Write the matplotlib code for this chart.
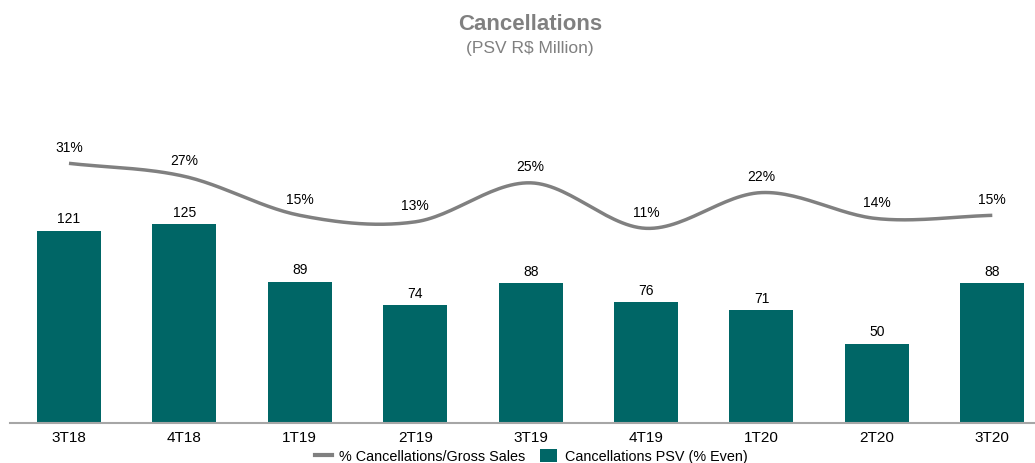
import matplotlib.pyplot as plt
import numpy as np
from matplotlib.lines import Line2D
from matplotlib.patches import Patch

plt.rcParams['font.family'] = ['Liberation Sans', 'DejaVu Sans']

quarters = ['3T18', '4T18', '1T19', '2T19', '3T19', '4T19', '1T20', '2T20', '3T20']
psv = [121, 125, 89, 74, 88, 76, 71, 50, 88]
pct = [31, 27, 15, 13, 25, 11, 22, 14, 15]

bar_color = '#006666'
line_color = '#808080'


def smooth(x, y, n=30):
    # catmull-rom style smoothing, like the office "smoothed line"
    x = np.asarray(x, float)
    y = np.asarray(y, float)
    px = np.concatenate([[2 * x[0] - x[1]], x, [2 * x[-1] - x[-2]]])
    py = np.concatenate([[2 * y[0] - y[1]], y, [2 * y[-1] - y[-2]]])
    xs, ys = [], []
    t = np.linspace(0, 1, n)
    for i in range(1, len(px) - 2):
        for arr, out in ((px, xs), (py, ys)):
            p0, p1, p2, p3 = arr[i - 1], arr[i], arr[i + 1], arr[i + 2]
            seg = 0.5 * ((2 * p1) + (-p0 + p2) * t +
                         (2 * p0 - 5 * p1 + 4 * p2 - p3) * t ** 2 +
                         (-p0 + 3 * p1 - 3 * p2 + p3) * t ** 3)
            out.extend(seg)
    return np.array(xs), np.array(ys)


fig = plt.figure(figsize=(10.35, 4.64), dpi=100)
W, H = 1035, 464
ax = fig.add_axes([10 / W, (H - 424) / H, (1035 - 10) / W, (424 - 100) / H])
x = np.arange(len(quarters))

ax.bar(x, psv, width=0.555, color=bar_color, zorder=2)
for xi, v in zip(x, psv):
    ax.annotate(str(v), (xi, v), xytext=(0, 4), textcoords='offset points',
                ha='center', va='bottom', fontsize=10, color='black')

ax.set_xlim(-0.511, 8.37)
ax.set_ylim(0, 204)
ax.set_xticks(x)
ax.set_xticklabels(quarters, fontsize=11)
ax.tick_params(axis='x', length=0, pad=5)
ax.set_yticks([])
for s in ['top', 'right', 'left']:
    ax.spines[s].set_visible(False)
ax.spines['bottom'].set_color('#a6a6a6')
ax.spines['bottom'].set_linewidth(1.5)

ax2 = ax.twinx()
ax2.set_ylim(-48.9, 50.8)
sx, sy = smooth(x, pct)
ax2.plot(sx, sy, color=line_color, lw=2.5, solid_capstyle='butt', zorder=3)
for xi, v in zip(x, pct):
    ax2.annotate(f'{v}%', (xi, v), xytext=(0, 7), textcoords='offset points',
                 ha='center', va='bottom', fontsize=10, color='black')
ax2.set_yticks([])
for s in ax2.spines.values():
    s.set_visible(False)

fig.text(530 / W, 1 - 25 / H, 'Cancellations', ha='center', va='center',
         fontsize=16, fontweight='bold', color=line_color)
fig.text(530 / W, 1 - 48 / H, '(PSV R$ Million)', ha='center', va='center',
         fontsize=12.5, color=line_color)

handles = [Line2D([0], [0], color=line_color, lw=3),
           Patch(facecolor=bar_color)]
fig.legend(handles, ['% Cancellations/Gross Sales', 'Cancellations PSV (% Even)'],
           loc='center', bbox_to_anchor=(531 / W, 1 - 457 / H), ncol=2,
           frameon=False, fontsize=10.4, handlelength=1.2, handleheight=1.0,
           columnspacing=1.0, handletextpad=0.5, borderpad=0)

fig.savefig('out.png', dpi=100)
